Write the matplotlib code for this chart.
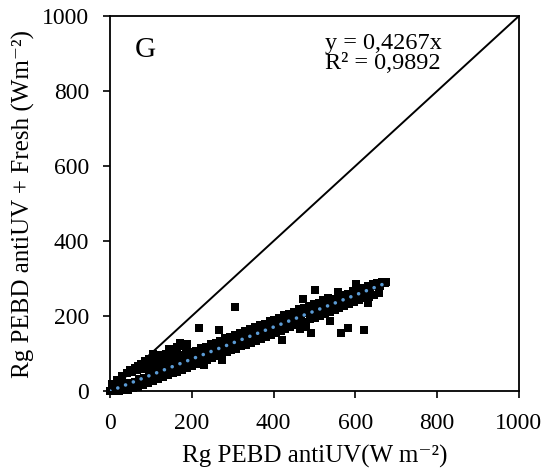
import matplotlib
matplotlib.use("Agg")
from matplotlib import pyplot as plt

plt.rcParams['font.family'] = ['Liberation Serif', 'DejaVu Serif']

# main band of points (three rows read from the cloud)
band_x = [6, 18, 30, 42, 54, 66, 78, 90, 102, 114, 126, 138, 150, 162, 174, 186, 198, 210,
          222, 234, 246, 258, 270, 282, 294, 306, 318, 330, 342, 354, 366, 378, 390, 402,
          414, 426, 438, 450, 462, 474, 486, 498, 510, 522, 534, 546, 558, 570, 582, 594,
          606, 618, 630, 642, 654, 666,
          0, 12, 24, 36, 48, 60, 72, 84, 96, 108, 120, 132, 144, 156, 168, 180, 192, 204,
          216, 228, 240, 252, 264, 276, 288, 300, 312, 324, 336, 348, 360, 372, 384, 396,
          408, 420, 432, 444, 456, 468, 480, 492, 504, 516, 528, 540, 552, 564, 576, 588,
          600, 612, 624, 636, 648, 660, 672,
          9, 21, 33, 45, 57, 69, 81, 93, 105, 117, 129, 141, 153, 165, 177, 189, 201, 213,
          225, 237, 249, 261, 273, 285, 297, 309, 321, 333, 345, 357, 369, 381, 393, 405,
          417, 429, 441, 453, 465, 477, 489, 501, 513, 525, 537, 549, 561, 573, 585, 597,
          609, 621, 633, 645, 657]
band_y = [18, 30, 40, 48, 52, 56, 58, 62, 66, 70, 74, 79, 84, 88, 95, 99, 104, 108,
          115, 118, 126, 129, 134, 141, 145, 150, 156, 161, 165, 172, 176, 180, 187, 190,
          196, 202, 206, 211, 218, 221, 226, 233, 236, 243, 247, 245, 250, 255, 260, 266,
          270, 275, 280, 285, 289, 292,
          0, 6, 11, 14, 22, 25, 33, 35, 43, 45, 53, 55, 63, 66, 74, 76, 84, 86,
          94, 96, 104, 107, 115, 117, 125, 127, 135, 137, 145, 147, 156, 158, 166, 168,
          176, 178, 186, 188, 197, 199, 207, 209, 217, 219, 227, 229, 238, 240, 248, 250,
          258, 260, 268, 270, 279, 281, 287,
          0, 0, 2, 4, 8, 12, 17, 22, 27, 31, 37, 42, 47, 52, 57, 62, 68, 72,
          78, 83, 88, 93, 99, 103, 109, 113, 119, 124, 129, 133, 140, 144, 150, 154,
          160, 165, 170, 175, 181, 185, 191, 196, 201, 206, 211, 216, 222, 227, 231, 237,
          242, 247, 252, 257, 262]

# upper spread near the origin
extra_x = [30, 42, 50, 60, 68, 75, 85, 95, 106, 115, 125, 138, 145, 155, 165, 171, 180, 188]
extra_y = [35, 48, 55, 62, 66, 72, 80, 86, 99, 92, 96, 100, 112, 105, 118, 128, 120, 125]

# scattered outliers
out_x = [305, 501, 218, 266, 420, 538, 564, 581, 621, 632, 491, 273, 602, 675, 473, 558,
         465, 480, 230, 212]
out_y = [225, 269, 167, 163, 137, 187, 156, 167, 163, 235, 156, 83, 286, 290, 245, 263,
         165, 170, 70, 80]

slope = 0.4267
trend_x = [0, 680]

fig = plt.figure(figsize=(5.46, 4.70), dpi=100)
ax = fig.add_axes([0.2015, 0.168, 0.749, 0.798])

ax.plot([0, 1000], [0, 1000], color='black', lw=1.4, zorder=1)
ax.scatter(band_x + extra_x + out_x, band_y + extra_y + out_y, marker='s', s=26,
           color='black', linewidths=0, zorder=2, clip_on=False)
ax.plot(trend_x, [slope * v for v in trend_x], color='#5B9BD5', lw=2.6,
        linestyle=(0, (0.01, 2.3)), dash_capstyle='round', zorder=3)

ax.set_xlim(0, 1000)
ax.set_ylim(0, 1000)
ax.set_xticks([0, 200, 400, 600, 800, 1000])
ax.set_yticks([0, 200, 400, 600, 800, 1000])
ax.tick_params(direction='out', length=5, width=1.2, labelsize=17)
ax.tick_params(axis='x', pad=11)
ax.tick_params(axis='y', pad=10)
for s in ax.spines.values():
    s.set_linewidth(1.3)

ax.set_xlabel('Rg PEBD antiUV(W m\u207b\u00b2)', fontsize=18, labelpad=8)
ax.set_ylabel('Rg PEBD antiUV + Fresh (Wm\u207b\u00b2)', fontsize=18, labelpad=5)

ax.text(0.06, 0.91, 'G', transform=ax.transAxes, fontsize=21, va='center')
ax.text(0.526, 0.9, 'y = 0,4267x\nR\u00b2 = 0,9892', transform=ax.transAxes,
        fontsize=17.5, ha='left', va='center', linespacing=0.95)

fig.savefig('out.png', dpi=100)
